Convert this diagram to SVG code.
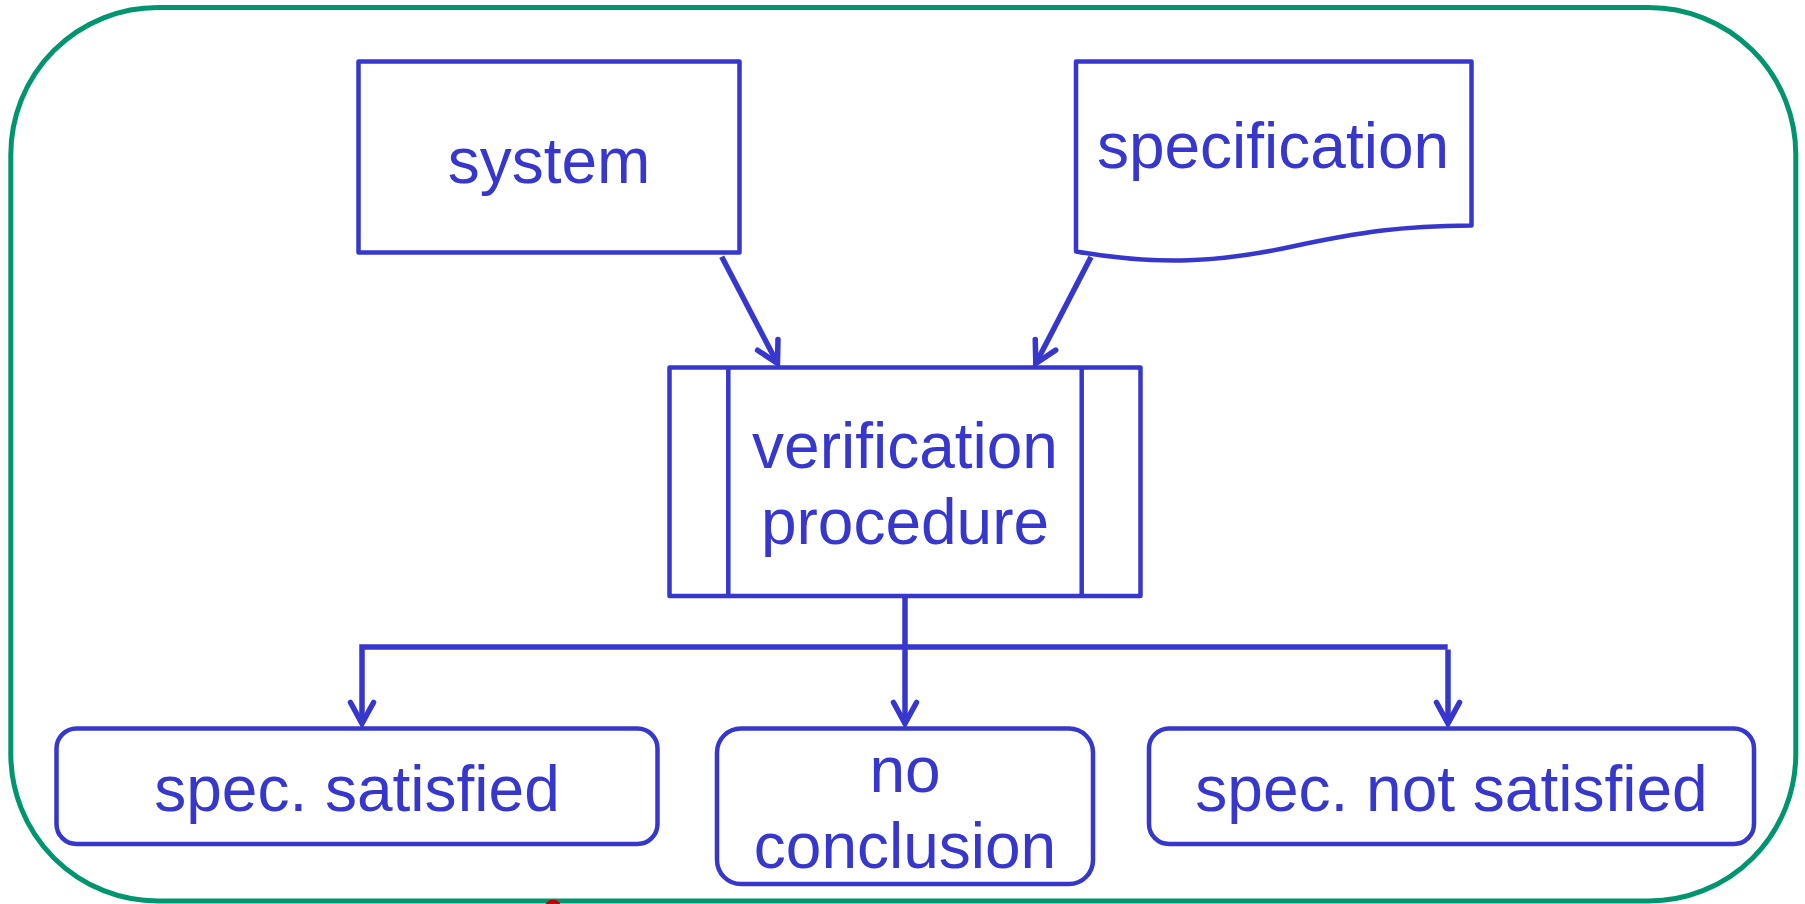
<svg xmlns="http://www.w3.org/2000/svg" width="1805" height="904" viewBox="0 0 1805 904">
  <style>
    .box { fill: #ffffff; stroke: #3737CD; stroke-width: 4.5; stroke-linejoin: round; }
    .lbl { font-family: "Liberation Sans", Arial, sans-serif; font-size: 64px; fill: #3737CD; text-anchor: middle; }
    .conn { fill: none; stroke: #3737CD; stroke-width: 5.5; stroke-linejoin: miter; }
  </style>
  <defs>
    <marker id="arrow" markerUnits="userSpaceOnUse" orient="auto" refX="0" refY="0" markerWidth="40" markerHeight="40" overflow="visible">
      <path d="M-21,-11.5 L0,0 L-21,11.5" fill="none" stroke="#3737CD" stroke-width="5.5" stroke-linecap="round" stroke-linejoin="miter"/>
    </marker>
  </defs>

  <!-- outer frame -->
  <rect x="10.8" y="7.5" width="1785" height="893.5" rx="147" ry="147" fill="#ffffff" stroke="#00956E" stroke-width="5"/>
  <circle cx="553" cy="907.5" r="8" fill="#C00000"/>

  <g id="connectors">
    <path class="conn" d="M721.7,256.7 L777.5,363.5" marker-end="url(#arrow)"/>
    <path class="conn" d="M1091,257 L1035.8,363.5" marker-end="url(#arrow)"/>
    <path class="conn" d="M905,596 V723.5" marker-end="url(#arrow)"/>
    <path class="conn" d="M1447.7,647 H362 V723.5" marker-end="url(#arrow)"/>
    <path class="conn" d="M1448,649.5 V723.5" marker-end="url(#arrow)"/>
  </g>

  <g id="system">
    <rect class="box" x="358.5" y="61.5" width="381" height="191"/>
    <text class="lbl" x="549" y="183">system</text>
  </g>

  <g id="specification">
    <path class="box" d="M1076,61.5 H1471.5 V225.5 C1400,226 1360,232 1290,247 C1220,262 1160,266 1076,251.5 Z"/>
    <text class="lbl" x="1273" y="168">specification</text>
  </g>

  <g id="verification">
    <rect class="box" x="669.5" y="367.5" width="471" height="228.5"/>
    <line class="box" x1="728.3" y1="367.5" x2="728.3" y2="596"/>
    <line class="box" x1="1081.7" y1="367.5" x2="1081.7" y2="596"/>
    <text class="lbl" x="905" y="468">verification</text>
    <text class="lbl" x="905" y="544">procedure</text>
  </g>

  <g id="satisfied">
    <rect class="box" x="56.5" y="728.5" width="601" height="115.5" rx="20" ry="20"/>
    <text class="lbl" x="357" y="811">spec. satisfied</text>
  </g>

  <g id="no-conclusion">
    <rect class="box" x="717" y="728.5" width="376" height="155.5" rx="24" ry="24"/>
    <text class="lbl" x="905" y="792">no</text>
    <text class="lbl" x="905" y="868">conclusion</text>
  </g>

  <g id="not-satisfied">
    <rect class="box" x="1149" y="728.5" width="605" height="115.5" rx="20" ry="20"/>
    <text class="lbl" x="1451.5" y="811">spec. not satisfied</text>
  </g>
</svg>
